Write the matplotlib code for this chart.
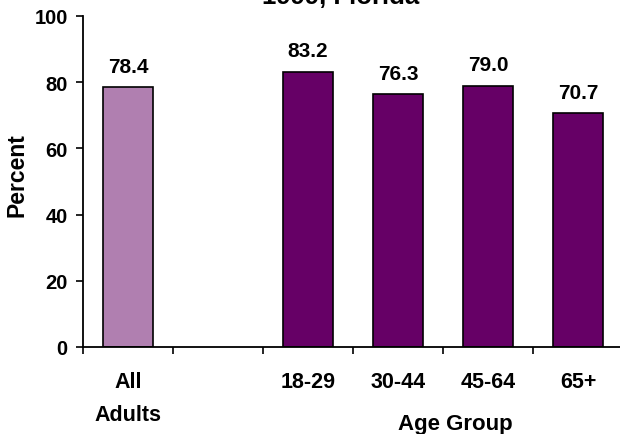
import matplotlib
matplotlib.use('Agg')
import matplotlib.pyplot as plt

plt.rcParams['font.family'] = ['Liberation Sans', 'DejaVu Sans']
plt.rcParams['font.weight'] = 'bold'

# slot 1 is left empty between the overall bar and the age groups
slots = [0, 2, 3, 4, 5]
groups = ['All\nAdults', '18-29', '30-44', '45-64', '65+']
values = [78.4, 83.2, 76.3, 79.0, 70.7]
colors = ['#B07FB0', '#660066', '#660066', '#660066', '#660066']
yticks = [0, 20, 40, 60, 80, 100]

fig = plt.figure(figsize=(6.2, 4.35), dpi=100)
ax = fig.add_axes([83 / 620, 87 / 435, 537 / 620, 331 / 435])

bars = ax.bar(slots, values, width=0.555, color=colors,
              edgecolor='black', linewidth=1.2, zorder=2)
for b, v in zip(bars, values):
    ax.annotate(f'{v:.1f}', (b.get_x() + b.get_width() / 2, v),
                xytext=(0, 8), textcoords='offset points',
                ha='center', va='bottom', fontsize=15, fontweight='bold')

ax.set_ylim(0, 100)
ax.set_xlim(-0.5, -0.5 + 537 / 90)
ax.set_yticks(yticks)
ax.set_yticklabels([str(t) for t in yticks], fontsize=14.5, fontweight='bold')

# category ticks sit on slot boundaries, labels under slot centres
ax.set_xticks([i - 0.5 for i in range(6)])
ax.set_xticklabels([])
ax.set_xticks(slots, minor=True)
ax.set_xticklabels(groups, minor=True, fontsize=15.5, fontweight='bold',
                   linespacing=1.75)
ax.tick_params(axis='x', which='minor', length=0, pad=17)
ax.tick_params(axis='x', which='major', length=5, width=1.2, direction='out')
ax.tick_params(axis='y', length=5, width=1.2, direction='out', pad=6)

for s in ['top', 'right']:
    ax.spines[s].set_visible(False)
for s in ['left', 'bottom']:
    ax.spines[s].set_linewidth(1.3)

fig.text(17 / 620, 1 - 175 / 435, 'Percent', rotation=90, ha='center',
         va='center', fontsize=16.5, fontweight='bold')
fig.text(455 / 620, 1 - 425 / 435, 'Age Group', ha='center', va='center',
         fontsize=16, fontweight='bold')
fig.text(341 / 620, 1 - 4 / 435, '1999, Florida', ha='center', va='baseline',
         fontsize=18.5, fontweight='bold')

fig.savefig('out.png', dpi=100)
